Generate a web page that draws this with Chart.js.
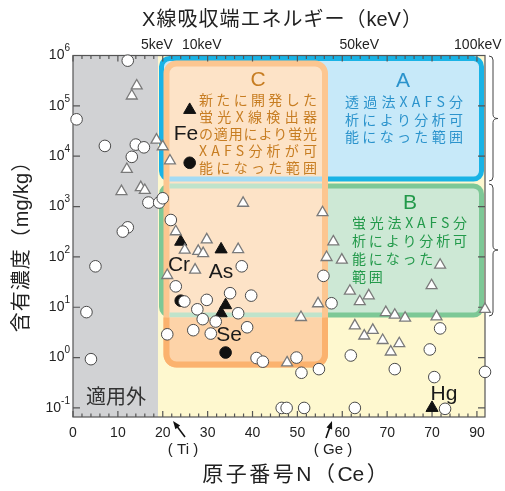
<!DOCTYPE html>
<html><head><meta charset="utf-8">
<script src="https://cdn.jsdelivr.net/npm/chart.js@4.4.1/dist/chart.umd.min.js"></script>
<style>html,body{margin:0;padding:0;background:#fff;}#wrap{width:505px;height:491px;position:relative;}</style>
</head><body><div id="wrap"><canvas id="c"></canvas></div>
<script>
// ---- data ----
const xTickValues = [0,10,20,30,40,50,60,70,80,90];
const xTickLabels = ['0','10','20','30','40','50','60','70','70','90'];
const yTickExponents = [-1,0,1,2,3,4,5,6];
const keVLabels = ['5keV','10keV','50keV','100keV'];
const keVAtomicNumber = [18.7,28.7,63.8,90.2];

const openCircleZ = [12.2,0.8,7.1,14.0,15.8,13.1,16.8,19.2,20.0,21.8,12.2,11.1,5.0,22.9,37.6,55.8,35.0,39.7,29.8,24.8,27.7,28.9,31.8,36.8,26.8,30.7,38.8,21.0,3.0,4.0,40.9,42.3,49.8,50.9,54.8,46.5,47.6,51.5,57.6,81.8,79.5,61.9,71.7,80.5,91.8,62.8,82.9];
const openCircleConc = [7.9e5,5.4e4,1.6e4,1.7e4,1.5e4,9.7e3,1.2e3,1.2e3,1.46e3,540,386,318,65,26,65,42,19,17,14,13,9.1,5.8,5.2,7.6,3.5,3.0,4.0,2.9,8,0.93,0.98,0.83,1.0,0.50,0.59,0.1,0.1,0.1,12,3.8,1.45,1.1,0.59,0.41,0.52,0.1,0.096];

const openTriZ = [14.2,13.1,18.6,20.0,21.6,12.0,10.8,15.1,16.0,22.9,24.9,21.0,37.9,55.6,29.8,27.9,29.0,36.8,56.5,27.2,54.6,50.8,47.7,58.0,59.9,81.8,79.9,61.7,63.9,65.9,69.7,71.7,74.0,81.0,91.8,62.8,64.9,66.8,69.0,72.7,70.8];
const openTriConc = [2.5e5,1.58e5,2.1e4,1.55e4,8.1e3,5.5e3,2.0e3,2.4e3,2.1e3,318,137,43,1.17e3,760,220,130,117,141,98,55,11.8,6.3,0.79,200,87,69,27,21,13,17,7.9,7.0,6.1,6.5,9.1,4.3,2.7,3.5,2.2,1.9,1.3];

const blackTriZ = [26,24,33,34,33,80];
const blackTriConc = [8.3e4,200,141,11,7.6,0.10];
const blackCircleZ = [26,24,34];
const blackCircleConc = [7.4e3,13.5,1.26];

// ---- helpers ----
function rr(ctx,x0,y0,x1,y1,r){ctx.beginPath();ctx.moveTo(x0+r,y0);ctx.lineTo(x1-r,y0);ctx.arcTo(x1,y0,x1,y0+r,r);ctx.lineTo(x1,y1-r);ctx.arcTo(x1,y1,x1-r,y1,r);ctx.lineTo(x0+r,y1);ctx.arcTo(x0,y1,x0,y1-r,r);ctx.lineTo(x0,y0+r);ctx.arcTo(x0,y0,x0+r,y0,r);ctx.closePath();}
function charsOf(t){return Array.from(t);}
function gapFor(ctx,t,w){const cs=charsOf(t);let s=0;cs.forEach(c=>s+=ctx.measureText(c).width);return cs.length>1?(w-s)/(cs.length-1):0;}
function drawSpaced(ctx,t,x0,y,gap){let x=x0;ctx.textAlign='left';charsOf(t).forEach(c=>{ctx.fillText(c,x,y);x+=ctx.measureText(c).width+gap;});}
function drawJust(ctx,t,x0,x1,y){drawSpaced(ctx,t,x0,y,gapFor(ctx,t,x1-x0));}
// draw centred text, spacing only after CJK characters
function drawCJKSpacedCentered(ctx,t,cx,y,gap){const cs=charsOf(t);const isC=c=>/[\u3000-\u9fff\uff00-\uffef]/.test(c);let w=0;cs.forEach((c,i)=>{w+=ctx.measureText(c).width;if(i<cs.length-1&&(isC(c)||isC(cs[i+1])))w+=gap;});let x=cx-w/2;ctx.textAlign='left';cs.forEach((c,i)=>{ctx.fillText(c,x,y);x+=ctx.measureText(c).width;if(i<cs.length-1&&(isC(c)||isC(cs[i+1])))x+=gap;});}
function brace(ctx,x,y0,y1,w){const m=(y0+y1)/2,r=4;ctx.beginPath();ctx.moveTo(x,y0);ctx.quadraticCurveTo(x+r,y0,x+r,y0+r);ctx.lineTo(x+r,m-r);ctx.quadraticCurveTo(x+r,m,x+r+w,m);ctx.quadraticCurveTo(x+r,m,x+r,m+r);ctx.lineTo(x+r,y1-r);ctx.quadraticCurveTo(x+r,y1,x,y1);ctx.stroke();}
function arrow(ctx,x0,y0,x1,y1){const a=Math.atan2(y1-y0,x1-x0);ctx.beginPath();ctx.moveTo(x0,y0);ctx.lineTo(x1-5*Math.cos(a),y1-5*Math.sin(a));ctx.lineWidth=1.6;ctx.stroke();ctx.beginPath();ctx.moveTo(x1,y1);ctx.lineTo(x1-8*Math.cos(a)+3*Math.sin(a),y1-8*Math.sin(a)-3*Math.cos(a));ctx.lineTo(x1-8*Math.cos(a)-3*Math.sin(a),y1-8*Math.sin(a)+3*Math.cos(a));ctx.closePath();ctx.fill();}

const CJK="'Noto Sans CJK JP'";
const LAT="'Liberation Sans','Noto Sans CJK JP'";

const bgPlugin={id:'bg',
beforeDatasetsDraw(chart){
  const {ctx,chartArea:a,scales:{x,y}}=chart;
  const X=v=>x.getPixelForValue(v), Y=e=>y.getPixelForValue(Math.pow(10,e));
  ctx.save();
  ctx.fillStyle='#fef8cf';ctx.fillRect(a.left,a.top,a.right-a.left,a.bottom-a.top);
  ctx.fillStyle='#d1d2d4';ctx.fillRect(a.left,a.top,X(18.93)-a.left,a.bottom-a.top);
  const A=[X(19.72),Y(5.94),X(91.02),Y(3.547)];
  const B=[X(19.72),Y(3.408),X(91.02),Y(0.846)];
  const C=[X(20.83),Y(5.841),X(56.15),Y(-0.137)];
  rr(ctx,...A,8);ctx.fillStyle='#c7e9f9';ctx.fill();ctx.lineWidth=5;ctx.strokeStyle='#19b3e6';ctx.stroke();
  rr(ctx,...B,8);ctx.fillStyle='#cde8d5';ctx.fill();ctx.lineWidth=5;ctx.strokeStyle='#7dc896';ctx.stroke();
  rr(ctx,...C,10);ctx.fillStyle='#fde3c7';ctx.fill();ctx.lineWidth=6;ctx.strokeStyle='#fcc690';ctx.stroke();
  ctx.save();rr(ctx,C[0]+3,C[1]+3,C[2]-3,C[3]-3,7);ctx.clip();
  rr(ctx,...A,8);ctx.lineWidth=5;ctx.strokeStyle='#a4dbf4';ctx.stroke();
  rr(ctx,...B,8);ctx.strokeStyle='#bfe3cb';ctx.stroke();
  ctx.restore();
  ctx.save();ctx.beginPath();ctx.rect(0,B[3]+2.5,chart.width,chart.height);ctx.clip();
  rr(ctx,...C,10);ctx.fillStyle='#fdd3a8';ctx.fill();ctx.lineWidth=6;ctx.strokeStyle='#fbb26e';ctx.stroke();
  ctx.restore();

  // region texts
  ctx.textBaseline='middle';
  ctx.font='21px '+LAT;ctx.textAlign='center';
  ctx.fillStyle='#c77d22';ctx.fillText('C',258,80);
  ctx.fillStyle='#2b93cc';ctx.fillText('A',403,81);
  ctx.fillStyle='#22994a';ctx.fillText('B',410,203);
  ctx.font='14px '+CJK;
  ctx.fillStyle='#c77d22';
  ['新たに開発した','蛍光X線検出器','の適用により蛍光','XAFS分析が可','能になった範囲'].forEach((t,i)=>drawJust(ctx,t,199,317,[100,117,134,151,168][i]));
  ctx.fillStyle='#2b93cc';
  let gA=gapFor(ctx,'析により分析可',118);
  drawJust(ctx,'透過法XAFS分',345,463,102);
  drawJust(ctx,'析により分析可',345,463,120);
  drawSpaced(ctx,'能になった範囲',345,137,gA);
  ctx.fillStyle='#22994a';
  let gB=gapFor(ctx,'析により分析可',115);
  drawJust(ctx,'蛍光法XAFS分',352,467,223);
  drawJust(ctx,'析により分析可',352,467,241);
  drawSpaced(ctx,'能になった',352,259,gB);
  drawSpaced(ctx,'範囲',352,277,gB);
  ctx.fillStyle='#333';ctx.font='20px '+CJK;ctx.textAlign='center';
  ctx.fillText('適用外',116,396);

  // frame + ticks
  ctx.strokeStyle='#555';ctx.lineWidth=1.2;
  ctx.strokeRect(a.left,a.top,a.right-a.left,a.bottom-a.top);
  ctx.beginPath();
  for(let v=0;v<=x.max;v+=2){const px=X(v),len=(v%10===0)?6:3.5;ctx.moveTo(px,a.bottom);ctx.lineTo(px,a.bottom-len);ctx.moveTo(px,a.top);ctx.lineTo(px,a.top+len);}
  yTickExponents.forEach(e=>{const py=Y(e);ctx.moveTo(a.left,py);ctx.lineTo(a.left+7,py);ctx.moveTo(a.right,py);ctx.lineTo(a.right-7,py);});
  ctx.stroke();
  ctx.restore();
},
afterDatasetsDraw(chart){
  const {ctx,chartArea:a,scales:{x,y}}=chart;
  const X=v=>x.getPixelForValue(v), Y=e=>y.getPixelForValue(Math.pow(10,e));
  ctx.save();
  ctx.textBaseline='middle';ctx.fillStyle='#1a1a1a';
  ctx.font='21px '+LAT;ctx.textAlign='center';
  [['Fe',186,134],['Cr',179,265],['As',221,272],['Se',229,335],['Hg',444,394]].forEach(l=>ctx.fillText(l[0],l[1],l[2]));
  // x tick labels
  ctx.fillStyle='#222';ctx.font='14px '+LAT;ctx.textAlign='center';
  xTickValues.forEach((v,i)=>ctx.fillText(xTickLabels[i],X(v),433));
  // top keV labels
  keVLabels.forEach((t,i)=>ctx.fillText(t,X(keVAtomicNumber[i]),45));
  // y tick labels
  yTickExponents.forEach(e=>{const py=Y(e);ctx.textAlign='right';ctx.font='10px '+LAT;const es=String(e);const ew=ctx.measureText(es).width;ctx.fillText(es,70,py-7);ctx.font='14px '+LAT;ctx.fillText('10',70-ew,py);});
  // (Ti) (Ge)
  ctx.font='15px '+LAT;ctx.textAlign='center';
  ctx.fillText('( Ti )',183,450);ctx.fillText('( Ge )',333,450);
  ctx.strokeStyle='#111';ctx.fillStyle='#111';
  arrow(ctx,185,437,173,421);arrow(ctx,326,438,332,421);
  // titles
  ctx.fillStyle='#222';
  ctx.font='20px '+LAT;drawCJKSpacedCentered(ctx,'X線吸収端エネルギー（keV）',282,20,1);
  ctx.font='21px '+LAT;drawCJKSpacedCentered(ctx,'原子番号N（Ce）',295,475,2.5);
  ctx.save();ctx.translate(22,242);ctx.rotate(-Math.PI/2);
  ctx.font='20px '+LAT;drawCJKSpacedCentered(ctx,'含有濃度（mg/kg）',0,0,1);
  ctx.restore();
  // braces
  ctx.strokeStyle='#444';ctx.lineWidth=1;
  brace(ctx,489,56,181,5);brace(ctx,489,184,316,5);
  ctx.restore();
}};

const pts=(zs,cs)=>zs.map((z,i)=>({x:z,y:cs[i]}));
new Chart(document.getElementById('c'),{
  type:'scatter',
  data:{datasets:[
    {data:pts(openCircleZ,openCircleConc),pointStyle:'circle',pointRadius:5.8,backgroundColor:'#fff',borderColor:'#4a4a4a',borderWidth:1,clip:false},
    {data:pts(openTriZ,openTriConc),pointStyle:'triangle',pointRadius:6.3,backgroundColor:'#fff',borderColor:'#7a7a7a',borderWidth:1.3,clip:false},
    {data:pts(blackCircleZ,blackCircleConc),pointStyle:'circle',pointRadius:5.8,backgroundColor:'#111',borderColor:'#111',borderWidth:1,clip:false},
    {data:pts(blackTriZ,blackTriConc),pointStyle:'triangle',pointRadius:7,backgroundColor:'#111',borderColor:'#111',borderWidth:1,clip:false}
  ]},
  options:{responsive:true,maintainAspectRatio:false,animation:false,events:[],
    layout:{padding:{left:73,right:20,top:55.5,bottom:74}},
    plugins:{legend:{display:false},tooltip:{enabled:false},title:{display:false}},
    scales:{
      x:{type:'linear',min:0,max:91.8,display:false},
      y:{type:'logarithmic',min:Math.pow(10,-1.18),max:1e6,display:false}
    }},
  plugins:[bgPlugin]
});
</script></body></html>
